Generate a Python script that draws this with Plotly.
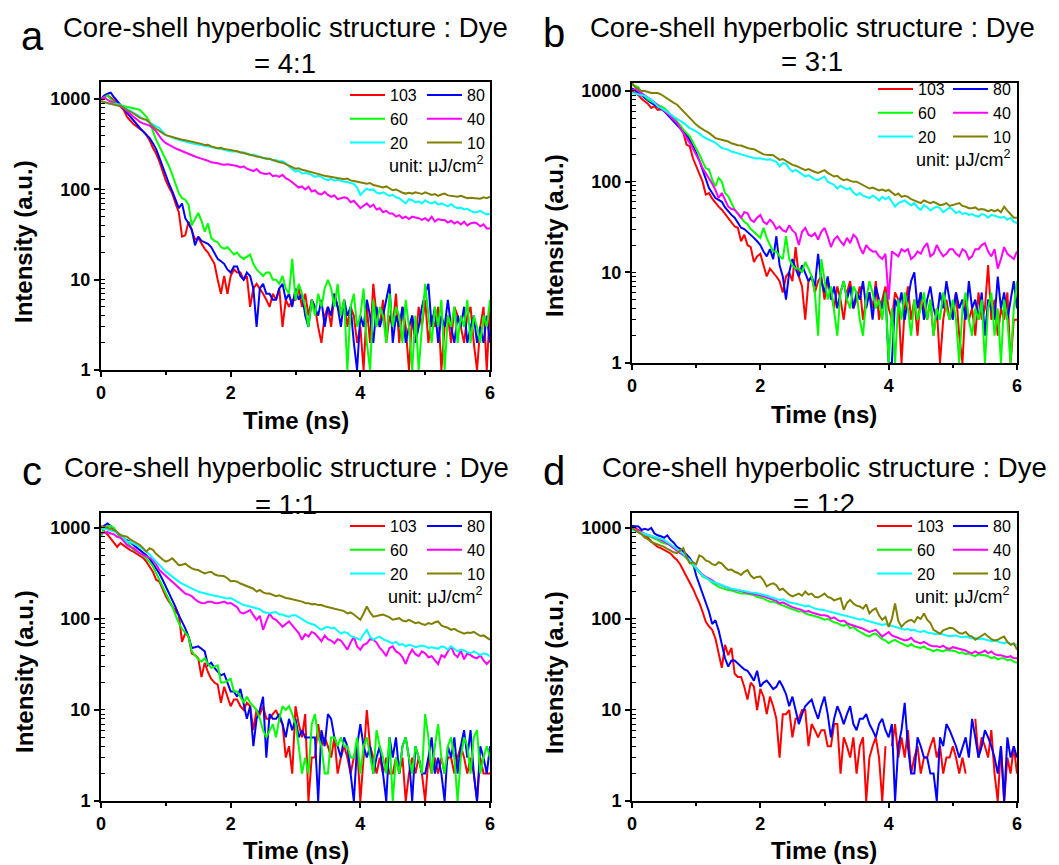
import math
import plotly.graph_objects as go

W, H = 1059, 865
FONT = "Liberation Sans, Arial, sans-serif"

# time axis (ns), 0.05 ns steps
time_ns = [round(i * 0.05, 2) for i in range(121)]

series_names = ["103", "80", "60", "40", "20", "10"]
series_colors = ["#FF0000", "#0000FF", "#00FF00", "#FF00FF", "#00FFFF", "#808000"]
panel_letters = ["a", "b", "c", "d"]
panel_ratios = ["4:1", "3:1", "1:1", "1:2"]
x_ticks = [0, 2, 4, 6]
y_ticks = [1, 10, 100, 1000]
y_tick_text = ["1", "10", "100", "1000"]
y_top = [1550, 1225, 1460, 1460]

# ---------------- panel a (4:1) ----------------
a_103 = [1000, 1080, 1100, 1040, 960, 900, 830, 760, 640, 580, 530, 500, 470, 440, 400, 350, 290, 250, 205, 160,
         125, 105, 90, 70, 56, 30, 31, 44, 35, 28, 29, 25, 22, 20, 17, 15, 10, 7, 11, 7,
         11, 13, 12, 12, 10, 11, 5, 8, 9, 8, 7, 6, 5, 7, 6, 8, 3, 6, 5, 6,
         6, 8, 5, 7, 4, 6, 5, 3, 2, 4, 5, 3, 7, 5, 4, 6, 3, 5, 4, 2,
         3, 1, 5, 2, 9, 4, 3, 6, 2, 4, 3, 7, 2, 5, 3, 1, 4, 2, 5, 3,
         6, 2, 4, 3, 5, 1, 3, 4, 2, 5, 4, 3, 2, 4, 5, 2, 1, 3, 5, 1,
         5]
a_80 = [1000, 1100, 1150, 1180, 1050, 950, 870, 780, 700, 630, 570, 520, 480, 440, 400, 370, 325, 280, 225, 180,
        140, 115, 95, 75, 62, 70, 48, 42, 36, 24, 30, 27, 26, 25, 23, 20, 17, 16, 15, 13,
        12, 14, 14, 11, 10, 12, 11, 8, 3, 8, 9, 7, 7, 6, 6, 8, 9, 6, 7, 5,
        8, 6, 7, 4, 3, 6, 5, 4, 6, 3, 5, 4, 7, 5, 3, 6, 4, 5, 2, 1,
        4, 3, 6, 4, 2, 5, 3, 4, 6, 9, 2, 4, 3, 5, 2, 3, 4, 2, 3, 5,
        7, 9, 3, 5, 2, 4, 3, 6, 3, 2, 4, 3, 5, 2, 3, 4, 2, 3, 2, 4,
        2]
a_60 = [1000, 1050, 1100, 1000, 920, 880, 860, 830, 820, 810, 800, 780, 760, 700, 640, 560, 440, 355, 300, 255,
        213, 180, 145, 115, 91, 80, 77, 68, 40, 47, 55, 45, 34, 42, 29, 27, 26, 23, 22, 23,
        21, 19, 20, 18, 17, 18, 19, 15, 13, 12, 11, 12, 12, 10, 10, 9, 11, 8, 7, 17,
        6, 9, 7, 5, 3, 6, 4, 7, 5, 8, 10, 8, 5, 9, 4, 6, 1, 5, 7, 3,
        4, 8, 2, 1, 6, 3, 5, 4, 2, 7, 3, 5, 4, 2, 6, 3, 1, 4, 1, 3,
        9, 4, 2, 5, 3, 6, 1, 4, 3, 5, 2, 4, 3, 6, 2, 4, 3, 2, 4, 3,
        6]
a_40 = [1000, 1050, 980, 940, 900, 870, 840, 800, 740, 680, 640, 600, 560, 540, 520, 510, 480, 440, 390, 350,
        325, 310, 295, 285, 275, 265, 260, 250, 240, 232, 225, 220, 213, 208, 200, 198, 195, 190, 188, 190,
        187, 185, 182, 175, 180, 170, 165, 160, 168, 155, 150, 148, 152, 140, 143, 138, 145, 133, 128, 120,
        112, 105, 108, 100, 107, 95, 98, 90, 88, 94, 87, 83, 86, 78, 80, 82, 80, 72, 75, 68,
        62, 66, 70, 64, 68, 60, 62, 56, 58, 54, 54, 50, 52, 48, 50, 47, 50, 49, 48, 46,
        48, 45, 50, 44, 47, 46, 46, 43, 45, 42, 44, 41, 44, 40, 42, 43, 42, 39, 41, 37,
        37]
a_20 = [950, 920, 900, 890, 880, 870, 870, 820, 780, 750, 720, 680, 640, 600, 590, 550, 520, 500, 480, 440,
        400, 390, 375, 365, 355, 345, 340, 330, 325, 320, 318, 312, 310, 300, 295, 290, 287, 280, 275, 268,
        263, 265, 263, 255, 258, 250, 240, 244, 235, 230, 223, 218, 220, 210, 212, 205, 205, 195, 180, 168,
        158, 162, 150, 152, 150, 145, 138, 142, 138, 130, 127, 132, 125, 128, 124, 122, 121, 118, 115, 105,
        87, 95, 102, 98, 100, 92, 90, 93, 88, 85, 87, 82, 80, 75, 70, 78, 76, 72, 74, 70,
        76, 72, 70, 73, 68, 70, 67, 65, 69, 64, 62, 63, 60, 61, 58, 56, 56, 58, 55, 53,
        54]
a_10 = [950, 930, 900, 880, 860, 850, 850, 800, 760, 730, 700, 660, 620, 600, 590, 550, 500, 470, 440, 420,
        400, 390, 380, 370, 360, 355, 350, 345, 340, 335, 330, 320, 310, 312, 300, 295, 287, 290, 280, 278,
        275, 270, 265, 258, 252, 245, 240, 236, 232, 228, 223, 220, 218, 212, 205, 200, 198, 190, 185, 178,
        170, 172, 165, 162, 158, 155, 150, 148, 145, 142, 140, 138, 138, 135, 132, 130, 132, 126, 124, 122,
        121, 120, 116, 118, 112, 110, 107, 105, 108, 102, 98, 100, 95, 92, 90, 92, 90, 93, 91, 89,
        93, 90, 87, 89, 85, 88, 90, 86, 85, 84, 83, 85, 82, 80, 81, 80, 80, 79, 82, 80,
        83]

# ---------------- panel b (3:1) ----------------
b_103 = [1000, 950, 900, 820, 770, 720, 650, 680, 620, 630, 620, 600, 550, 510, 460, 400, 345, 257, 245, 181,
         148, 120, 100, 72, 75, 65, 58, 53, 49, 44, 40, 36, 32, 31, 22, 26, 20, 19, 13, 15,
         16, 12, 9, 11, 10, 9, 8, 6, 9, 10, 8, 19, 9, 7, 3, 8, 9, 6, 8, 9,
         5, 8, 6, 4, 7, 5, 3, 6, 8, 4, 5, 7, 3, 5, 6, 4, 8, 3, 5, 7,
         4, 3, 6, 5, 1, 4, 7, 3, 5, 2, 6, 4, 3, 5, 2, 4, 1, 3, 5, 3,
         4, 6, 2, 1, 5, 3, 4, 2, 6, 3, 4, 12, 3, 5, 2, 4, 3, 6, 1, 3,
         3]
b_80 = [1070, 1000, 950, 900, 830, 780, 740, 710, 680, 640, 600, 550, 500, 460, 426, 390, 360, 325, 290, 250,
        208, 170, 136, 110, 85, 75, 66, 63, 60, 52, 47, 43, 40, 35, 31, 30, 28, 26, 24, 22,
        20, 17, 15, 18, 14, 25, 12, 9, 5, 10, 14, 11, 9, 12, 10, 8, 9, 7, 16, 8,
        6, 9, 5, 7, 4, 6, 8, 5, 7, 4, 6, 5, 8, 4, 6, 3, 7, 5, 4, 6,
        1, 1, 5, 4, 6, 3, 5, 8, 10, 4, 6, 3, 5, 7, 4, 3, 6, 4, 8, 5,
        3, 6, 4, 5, 3, 8, 4, 5, 3, 6, 2, 5, 4, 3, 9, 4, 6, 3, 5, 8,
        4]
b_60 = [1170, 1130, 1100, 950, 870, 800, 770, 740, 710, 680, 650, 600, 550, 500, 460, 420, 375, 340, 316, 270,
        235, 200, 167, 141, 136, 105, 89, 110, 100, 75, 69, 58, 49, 45, 40, 36, 34, 30, 28, 26,
        24, 31, 24, 20, 17, 17, 15, 14, 25, 14, 12, 11, 11, 10, 13, 11, 9, 6, 2, 14,
        8, 5, 7, 4, 2, 6, 8, 5, 4, 7, 6, 3, 2, 5, 8, 6, 4, 5, 3, 6,
        1, 4, 1, 5, 3, 6, 4, 2, 5, 3, 4, 6, 3, 5, 2, 4, 3, 6, 4, 3,
        5, 3, 1, 4, 6, 3, 2, 4, 3, 5, 1, 4, 6, 2, 4, 1, 5, 3, 1, 4,
        8]
b_40 = [1000, 1050, 1000, 950, 900, 850, 800, 750, 700, 650, 600, 560, 525, 480, 445, 390, 345, 305, 268, 230,
        200, 170, 141, 125, 110, 95, 81, 66, 75, 62, 53, 50, 49, 44, 40, 46, 45, 38, 36, 40,
        43, 36, 34, 38, 35, 30, 32, 29, 28, 33, 29, 27, 20, 28, 31, 26, 25, 27, 23, 28,
        31, 25, 19, 23, 25, 22, 20, 24, 21, 26, 24, 19, 16, 20, 18, 17, 17, 15, 14, 16,
        5, 17, 16, 15, 18, 17, 18, 14, 15, 17, 16, 19, 21, 15, 16, 20, 17, 15, 16, 18,
        18, 16, 15, 18, 17, 14, 15, 18, 18, 20, 21, 17, 15, 18, 11, 14, 19, 16, 15, 14,
        17]
b_20 = [950, 940, 920, 900, 880, 840, 800, 740, 680, 650, 620, 590, 550, 525, 500, 470, 445, 415, 390, 375,
        360, 340, 316, 300, 290, 280, 268, 250, 235, 230, 225, 215, 208, 205, 200, 195, 190, 185, 182, 180,
        181, 178, 174, 176, 172, 165, 147, 160, 158, 140, 129, 135, 128, 120, 114, 118, 112, 106, 104, 110,
        114, 100, 96, 92, 84, 90, 86, 82, 85, 76, 71, 75, 70, 68, 66, 70, 67, 62, 68, 64,
        68, 60, 53, 58, 60, 62, 58, 55, 58, 52, 49, 55, 52, 48, 51, 53, 51, 46, 49, 52,
        49, 45, 47, 44, 45, 43, 44, 42, 41, 44, 43, 40, 43, 42, 41, 40, 41, 38, 40, 36,
        35]
b_10 = [1230, 1100, 1050, 1000, 1000, 970, 950, 950, 950, 920, 870, 820, 770, 740, 710, 650, 600, 550, 500, 460,
        426, 400, 375, 360, 345, 325, 302, 295, 290, 282, 277, 265, 257, 252, 250, 240, 235, 230, 228, 218,
        208, 200, 198, 196, 196, 185, 174, 178, 168, 160, 153, 150, 145, 140, 134, 138, 132, 128, 125, 130,
        134, 125, 118, 114, 116, 108, 104, 106, 102, 100, 100, 96, 92, 88, 84, 86, 83, 80, 82, 79,
        81, 76, 71, 74, 68, 70, 68, 64, 62, 60, 58, 62, 60, 58, 60, 57, 55, 56, 58, 54,
        55, 57, 58, 54, 53, 51, 51, 52, 49, 50, 49, 47, 49, 47, 49, 46, 53, 48, 44, 40,
        40]

# ---------------- panel c (1:1) ----------------
c_103 = [1030, 910, 850, 770, 680, 620, 680, 640, 600, 570, 550, 520, 500, 470, 426, 380, 331, 270, 257, 215,
         178, 155, 136, 122, 110, 56, 70, 64, 42, 40, 37, 23, 33, 26, 22, 20, 19, 12, 18, 14,
         11, 13, 13, 11, 10, 12, 11, 6, 10, 9, 11, 8, 8, 9, 10, 8, 7, 3, 4, 2,
         11, 7, 5, 9, 1, 3, 3, 7, 4, 5, 4, 3, 5, 2, 3, 4, 3, 2, 3, 4,
         1, 3, 10, 4, 3, 2, 3, 2, 3, 2, 2, 3, 2, 3, 1, 2, 3, 2, 3, 2,
         1, 3, 2, 3, 2, 3, 2, 3, 3, 2, 3, 4, 3, 2, 3, 2, 1, 3, 2, 2,
         2]
c_80 = [1000, 1050, 1120, 1050, 950, 870, 800, 770, 740, 700, 650, 610, 575, 540, 500, 460, 410, 360, 316, 270,
        228, 195, 162, 135, 110, 95, 79, 64, 48, 49, 50, 47, 44, 31, 33, 29, 26, 24, 25, 20,
        16, 16, 14, 17, 12, 8, 11, 4, 8, 10, 14, 3, 9, 8, 8, 9, 7, 5, 8, 6,
        8, 5, 6, 5, 5, 5, 5, 1, 6, 4, 9, 8, 5, 4, 3, 5, 4, 2, 1, 4,
        7, 4, 3, 4, 2, 3, 4, 2, 1, 5, 3, 5, 2, 4, 5, 3, 1, 4, 3, 2,
        2, 3, 5, 2, 3, 2, 1, 4, 3, 5, 2, 4, 6, 3, 6, 2, 1, 4, 3, 2,
        4]
c_60 = [800, 1000, 1050, 1050, 1000, 900, 800, 750, 710, 640, 575, 550, 525, 495, 465, 420, 380, 320, 270, 230,
        190, 165, 137, 110, 90, 78, 70, 64, 44, 40, 36, 34, 37, 32, 29, 30, 31, 20, 20, 21,
        22, 16, 16, 14, 12, 14, 12, 11, 10, 8, 6, 5, 6, 7, 5, 8, 11, 10, 11, 9,
        7, 4, 2, 3, 2, 7, 9, 5, 4, 2, 2, 5, 5, 4, 5, 4, 4, 3, 3, 5,
        2, 4, 5, 3, 2, 6, 4, 3, 2, 5, 1, 3, 2, 4, 5, 3, 2, 4, 3, 2,
        9, 5, 2, 4, 7, 3, 2, 4, 5, 3, 1, 3, 5, 4, 2, 5, 6, 2, 3, 4,
        3]
c_40 = [870, 890, 900, 870, 850, 800, 780, 720, 650, 620, 600, 560, 525, 505, 490, 470, 445, 400, 345, 320,
        295, 275, 257, 235, 218, 205, 190, 185, 178, 165, 155, 150, 149, 155, 155, 150, 149, 152, 155, 148,
        150, 142, 135, 118, 115, 120, 125, 110, 98, 108, 76, 95, 115, 102, 98, 90, 82, 88, 94, 85,
        76, 70, 59, 68, 64, 72, 69, 62, 57, 66, 60, 58, 54, 60, 58, 52, 46, 55, 64, 50,
        46, 52, 54, 60, 59, 55, 48, 44, 39, 48, 50, 44, 42, 38, 32, 40, 46, 41, 39, 44,
        42, 38, 39, 35, 32, 40, 38, 44, 50, 41, 38, 45, 36, 42, 40, 38, 37, 40, 35, 32,
        35]
c_20 = [1000, 980, 950, 940, 920, 880, 850, 780, 710, 700, 680, 650, 620, 580, 550, 510, 465, 430, 390, 360,
        331, 310, 295, 275, 257, 245, 235, 225, 218, 210, 200, 195, 190, 188, 183, 180, 178, 175, 170, 168,
        170, 162, 155, 148, 142, 140, 137, 135, 131, 128, 120, 118, 115, 118, 119, 112, 112, 108, 106, 110,
        110, 105, 100, 95, 90, 88, 86, 80, 76, 80, 82, 79, 80, 74, 69, 72, 70, 65, 63, 61,
        59, 68, 76, 64, 59, 62, 64, 60, 58, 56, 54, 56, 52, 53, 50, 52, 51, 49, 50, 51,
        50, 48, 49, 48, 47, 50, 49, 46, 50, 47, 44, 46, 45, 43, 42, 44, 42, 40, 42, 41,
        39]
c_10 = [1050, 1030, 1000, 980, 950, 900, 830, 820, 800, 750, 710, 680, 650, 600, 550, 600, 575, 520, 480, 450,
        426, 440, 465, 420, 390, 395, 405, 380, 360, 350, 345, 330, 316, 325, 330, 310, 300, 298, 295, 280,
        260, 262, 257, 245, 237, 230, 225, 215, 200, 208, 196, 190, 190, 185, 178, 182, 176, 170, 168, 165,
        162, 158, 155, 150, 149, 145, 146, 142, 142, 138, 135, 133, 131, 128, 126, 122, 115, 118, 112, 105,
        98, 115, 137, 118, 106, 108, 110, 112, 108, 104, 98, 100, 102, 96, 94, 98, 94, 90, 92, 88,
        86, 90, 88, 92, 94, 85, 82, 80, 76, 78, 74, 72, 69, 71, 70, 72, 68, 65, 66, 62,
        59]

# ---------------- panel d (1:2) ----------------
d_103 = [1050, 1000, 950, 900, 830, 780, 710, 660, 620, 600, 575, 550, 525, 480, 445, 400, 345, 300, 257, 215,
         178, 150, 120, 93, 83, 76, 61, 42, 29, 52, 40, 48, 25, 23, 23, 18, 13, 20, 18, 10,
         17, 14, 9, 14, 11, 8, 3, 9, 9, 10, 5, 8, 8, 10, 10, 4, 7, 6, 5, 6,
         6, 4, 4, 7, 7, 2, 5, 4, 3, 5, 2, 4, 5, 1, 3, 4, 5, 3, 1, 4,
         None, 4, 7, 3, 5, 3, 6, 2, 3, 4, 2, 3, 3, 4, 5, 3, 4, 2, 3, 3,
         4, 3, 2, 3, 2, None, None, 8, 3, 5, 4, 3, 6, 2, 1, 4, 1, 3, 2, 4,
         2]
d_80 = [1050, 1050, 1040, 950, 980, 950, 1000, 870, 830, 810, 780, 830, 740, 690, 620, 590, 550, 510, 465, 410,
        300, 240, 190, 150, 120, 88, 97, 75, 52, 37, 30, 35, 35, 32, 30, 28, 27, 24, 21, 27,
        18, 20, 21, 19, 17, 18, 21, 18, 15, 11, 14, 10, 7, 9, 11, 12, 13, 10, 8, 11,
        14, 9, 5, 8, 11, 9, 7, 9, 11, 7, 6, 8, 8, 9, 7, 6, 5, 7, 8, 6,
        5, 7, 1, 4, 6, 12, 4, 2, 2, 5, 4, 3, 3, 2, 2, 1, 5, 4, 7, 6,
        5, 4, 3, 4, 5, 3, 8, 5, 3, 4, 6, 5, 4, 3, 2, 4, 1, 5, 3, 4,
        3]
d_60 = [1000, 950, 900, 880, 850, 820, 800, 760, 740, 700, 680, 660, 650, 610, 575, 540, 500, 465, 426, 390,
        360, 325, 293, 280, 270, 250, 235, 225, 218, 212, 208, 205, 200, 195, 190, 192, 190, 185, 183, 175,
        172, 168, 160, 155, 155, 150, 145, 140, 137, 130, 128, 125, 120, 122, 115, 112, 110, 108, 105, 102,
        98, 100, 95, 92, 90, 86, 84, 88, 79, 82, 76, 72, 69, 66, 64, 68, 69, 64, 60, 58,
        54, 57, 59, 56, 54, 52, 50, 53, 50, 49, 48, 50, 47, 46, 44, 46, 45, 44, 46, 45,
        45, 44, 42, 43, 41, 42, 40, 39, 41, 40, 40, 39, 37, 38, 36, 37, 37, 35, 36, 34,
        33]
d_40 = [1000, 960, 920, 890, 860, 840, 810, 790, 770, 740, 720, 680, 640, 600, 560, 530, 510, 475, 440, 400,
        365, 335, 305, 290, 280, 265, 250, 240, 232, 225, 220, 212, 210, 205, 200, 198, 195, 192, 190, 186,
        183, 178, 172, 166, 162, 158, 148, 152, 145, 140, 135, 132, 128, 125, 120, 122, 118, 115, 112, 110,
        110, 108, 101, 104, 98, 94, 96, 90, 87, 85, 82, 80, 78, 75, 72, 74, 76, 70, 64, 68,
        72, 66, 64, 62, 60, 58, 59, 62, 57, 55, 54, 56, 53, 51, 50, 50, 49, 51, 48, 47,
        49, 48, 47, 46, 45, 43, 42, 44, 42, 43, 45, 42, 44, 41, 40, 40, 39, 38, 39, 37,
        37]
d_20 = [950, 920, 900, 880, 860, 840, 820, 800, 780, 760, 740, 700, 660, 620, 590, 560, 520, 480, 445, 400,
        360, 330, 300, 285, 270, 258, 250, 242, 235, 230, 222, 215, 212, 208, 205, 200, 198, 196, 194, 192,
        190, 185, 180, 175, 172, 168, 162, 165, 158, 152, 150, 148, 145, 142, 137, 140, 135, 130, 128, 127,
        125, 122, 120, 118, 115, 112, 110, 108, 106, 104, 101, 98, 100, 96, 94, 92, 90, 88, 86, 88,
        86, 84, 82, 80, 78, 76, 78, 75, 76, 73, 72, 74, 71, 70, 69, 68, 69, 67, 66, 65,
        65, 66, 64, 63, 64, 62, 61, 62, 60, 61, 60, 58, 57, 58, 56, 55, 54, 56, 53, 52,
        52]
d_10 = [1000, 950, 900, 850, 780, 750, 700, 680, 650, 630, 620, 590, 560, 540, 530, 560, 600, 480, 410, 420,
        400, 500, 480, 440, 426, 400, 390, 420, 405, 370, 345, 350, 330, 320, 304, 330, 345, 300, 280, 290,
        293, 265, 228, 240, 246, 235, 208, 215, 198, 185, 177, 185, 190, 180, 200, 185, 190, 175, 172, 180,
        190, 175, 170, 160, 165, 170, 126, 150, 162, 148, 140, 137, 130, 145, 115, 125, 131, 110, 98, 105,
        82, 100, 148, 95, 82, 90, 95, 98, 92, 105, 100, 115, 98, 90, 76, 72, 69, 75, 78, 80,
        79, 74, 70, 69, 72, 66, 64, 59, 62, 66, 69, 64, 60, 58, 59, 62, 64, 56, 52, 54,
        46]

panel_data = [
    [a_103, a_80, a_60, a_40, a_20, a_10],
    [b_103, b_80, b_60, b_40, b_20, b_10],
    [c_103, c_80, c_60, c_40, c_20, c_10],
    [d_103, d_80, d_60, d_40, d_20, d_10],
]

# ---------------- layout geometry (pixels) ----------------
# plot boxes: left, right, top, bottom
boxes = [(101, 490, 82, 370), (632, 1017, 83, 363), (101, 490, 513, 801), (632, 1017, 513, 801)]
letter_pos = [(32, 36), (554, 33), (32, 471), (554, 471)]
title_pos = [(285, 28, 63), (812, 28, 61), (286, 467, 504), (824, 467, 503)]
ylabel_pos = [(24, 242), (554, 235), (24, 672), (554, 672)]
xlabel_pos = [(296, 420), (824, 415), (296, 850), (824, 850)]
legend_pos = [(345, 422, 78), (873, 948, 72), (345, 422, 509), (872, 948, 509)]
unit_pos = [(485, 165), (1012, 159), (484, 595), (1011, 595)]


def px(x):
    return x / W


def py(y):
    return 1 - y / H


fig = go.Figure()
layout = dict(
    width=W, height=H,
    margin=dict(l=0, r=0, t=0, b=0, autoexpand=False),
    paper_bgcolor="white", plot_bgcolor="white",
    font=dict(family=FONT, color="black"),
    showlegend=True,
)
annotations = []

for k in range(4):
    xa = "x" if k == 0 else f"x{k + 1}"
    ya = "y" if k == 0 else f"y{k + 1}"
    for j, (name, color) in enumerate(zip(series_names, series_colors)):
        vals = panel_data[k][j]
        leg_idx = 2 * k + (1 if j % 2 == 0 else 2)
        leg = "legend" if leg_idx == 1 else f"legend{leg_idx}"
        fig.add_trace(go.Scatter(
            x=time_ns[:len(vals)], y=vals, mode="lines", name=name,
            line=dict(color=color, width=2), xaxis=xa, yaxis=ya,
            legend=leg, connectgaps=False,
        ))
    l, r, t, b = boxes[k]
    axis_common = dict(
        showline=True, linewidth=2, linecolor="black", mirror=True,
        showgrid=False, zeroline=False,
        ticks="outside", ticklen=5, tickwidth=2, tickcolor="black",
        tickfont=dict(family=FONT, size=18, color="black", weight="bold"),
    )
    layout["xaxis" if k == 0 else f"xaxis{k + 1}"] = dict(
        axis_common, domain=[px(l), px(r)], anchor=ya, range=[0, 6],
        tickvals=x_ticks,
        minor=dict(dtick=1, ticks="outside", ticklen=3, tickwidth=1.5, tickcolor="black"),
    )
    layout["yaxis" if k == 0 else f"yaxis{k + 1}"] = dict(
        axis_common, domain=[py(b), py(t)], anchor=xa, type="log",
        range=[0, math.log10(y_top[k])],
        tickvals=y_ticks, ticktext=y_tick_text,
        minor=dict(dtick="D1", ticks="inside", ticklen=4, tickwidth=1.2, tickcolor="black"),
    )
    # legends (two columns)
    c1, c2, ltop = legend_pos[k]
    for ci, lx in enumerate((c1, c2)):
        leg_idx = 2 * k + 1 + ci
        key = "legend" if leg_idx == 1 else f"legend{leg_idx}"
        layout[key] = dict(
            x=px(lx), y=py(ltop), xref="paper", yref="paper",
            xanchor="left", yanchor="top", orientation="v",
            bgcolor="rgba(0,0,0,0)", borderwidth=0, tracegroupgap=0,
            font=dict(family=FONT, size=16, color="black"), itemwidth=35,
        )
    # texts
    lx_, ly_ = letter_pos[k]
    annotations.append(dict(text=panel_letters[k], x=px(lx_), y=py(ly_), xref="paper", yref="paper",
                            showarrow=False, xanchor="center", yanchor="middle",
                            font=dict(family=FONT, size=40, color="black")))
    tx, ty1, ty2 = title_pos[k]
    annotations.append(dict(text="Core-shell hyperbolic structure : Dye", x=px(tx), y=py(ty1),
                            xref="paper", yref="paper", showarrow=False, xanchor="center",
                            yanchor="middle", font=dict(family=FONT, size=27.5, color="black")))
    annotations.append(dict(text="= " + panel_ratios[k], x=px(tx), y=py(ty2),
                            xref="paper", yref="paper", showarrow=False, xanchor="center",
                            yanchor="middle", font=dict(family=FONT, size=27.5, color="black")))
    yx, yy = ylabel_pos[k]
    annotations.append(dict(text="Intensity (a.u.)", x=px(yx), y=py(yy), xref="paper", yref="paper",
                            showarrow=False, textangle=-90, xanchor="center", yanchor="middle",
                            font=dict(family=FONT, size=24, color="black", weight="bold")))
    xx, xy = xlabel_pos[k]
    annotations.append(dict(text="Time (ns)", x=px(xx), y=py(xy), xref="paper", yref="paper",
                            showarrow=False, xanchor="center", yanchor="middle",
                            font=dict(family=FONT, size=24, color="black", weight="bold")))
    ux, uy = unit_pos[k]
    annotations.append(dict(text="unit: μJ/cm<sup>2</sup>", x=px(ux), y=py(uy), xref="paper",
                            yref="paper", showarrow=False, xanchor="right", yanchor="middle",
                            font=dict(family=FONT, size=18, color="black")))

layout["annotations"] = annotations
fig.update_layout(**layout)
fig.write_html("out.html")
